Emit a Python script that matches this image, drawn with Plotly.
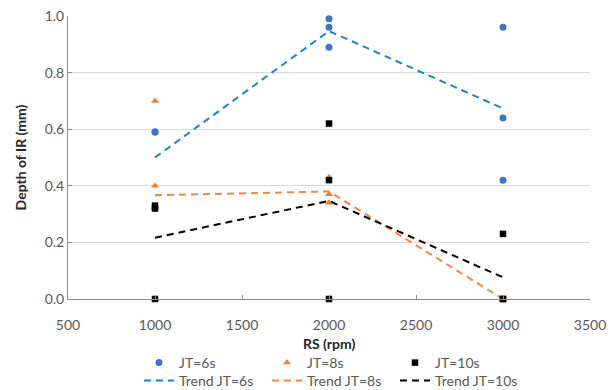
import numpy as np
import plotly.graph_objects as go

rs = [1000, 2000, 3000]
# individual measurements (three per speed)
jt6 = {1000: [0.59, 0.59, 0.32], 2000: [0.99, 0.96, 0.89], 3000: [0.96, 0.64, 0.42]}
jt8 = {1000: [0.70, 0.40, 0.0], 2000: [0.43, 0.37, 0.34], 3000: [0.0, 0.0, 0.0]}
jt10 = {1000: [0.33, 0.32, 0.0], 2000: [0.62, 0.42, 0.0], 3000: [0.23, 0.0, 0.0]}

series = [
    ("JT=6s", jt6, "#4472C4", "#1F7FD3", "circle"),
    ("JT=8s", jt8, "#ED7D31", "#F0883E", "triangle-up"),
    ("JT=10s", jt10, "#000000", "#000000", "square"),
]

fig = go.Figure()
font = "Lato, 'Open Sans', sans-serif"

for name, d, mc, lc, sym in series:
    means = [float(np.mean(d[x])) for x in rs]
    fig.add_trace(go.Scatter(x=rs, y=means, mode="lines", name="Trend " + name,
                             line=dict(color=lc, width=2, dash="7px,5px"),
                             legend="legend2", cliponaxis=False))

for name, d, mc, lc, sym in series:
    xs, ys = [], []
    for x in rs:
        for v in d[x]:
            xs.append(x)
            ys.append(v)
    fig.add_trace(go.Scatter(x=xs, y=ys, mode="markers", name=name,
                             marker=dict(color=mc, symbol=sym, size=7 if sym != "square" else 6.5),
                             legend="legend", cliponaxis=False))

# page has an 8px body margin, so the figure is made 8px smaller
W, H, OFF = 607, 382, 8
PLOT_H = H - 8 - 91

leg_common = dict(orientation="h", x=0.136, xanchor="left", yref="container",
                  yanchor="middle", entrywidth=83, entrywidthmode="pixels",
                  font=dict(size=14, color="#595959"), bgcolor="rgba(0,0,0,0)",
                  tracegroupgap=0, itemwidth=30)

axis_common = dict(showline=True, linecolor="#8C8C8C", linewidth=1,
                   ticks="inside", ticklen=4, tickcolor="#8C8C8C",
                   tickfont=dict(size=14, color="#595959"), automargin=False,
                   ticklabeloverflow="allow", zeroline=False)

fig.update_layout(
    width=W, height=H,
    margin=dict(l=60, r=25, t=8, b=91, autoexpand=False),
    paper_bgcolor="white", plot_bgcolor="white",
    font=dict(family=font, size=14, color="#595959"),
    xaxis=dict(range=[500, 3500], dtick=500, showgrid=False, ticklabelstandoff=13,
               **axis_common),
    yaxis=dict(range=[0, 1.0], dtick=0.2, tickformat=".1f", showgrid=True,
               gridcolor="#D9D9D9", gridwidth=1,
               title=dict(text="<b>Depth of IR (mm)</b>", font=dict(size=14, color="#262626"), standoff=14),
               **axis_common),
    legend=dict(y=1 - (363 - OFF) / H, **leg_common),
    legend2=dict(y=1 - (381 - OFF) / H, **leg_common),
    showlegend=True,
    annotations=[dict(text="<b>RS (rpm)</b>", xref="paper", yref="paper", x=0.5,
                      y=-(343 - 299) / PLOT_H, xanchor="center", yanchor="middle",
                      showarrow=False, font=dict(size=14, color="#262626"))],
)

fig.write_html("out.html")
